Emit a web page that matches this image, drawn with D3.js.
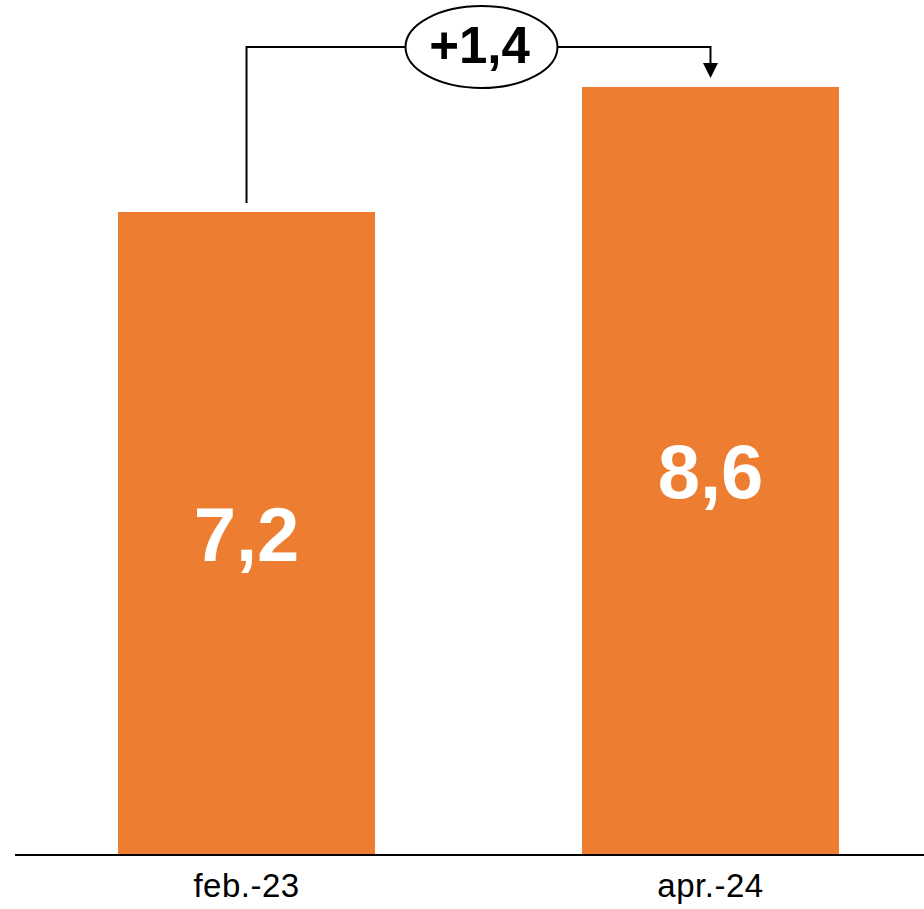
<!DOCTYPE html>
<html>
<head lang="en">
    <meta charset="UTF-8">
    <title>Bars</title>
    <script type="text/javascript" src="https://cdn.jsdelivr.net/npm/d3@7"></script>
    <style>
        body { margin: 0; background: #fff; }
        text { font-family: "Liberation Sans", Arial, sans-serif; }
    </style>
</head>
<body>
<svg id="mainSvg"></svg>
<script>
    var categories = ["feb.-23", "apr.-24"];
    var values = [7.2, 8.6];
    var valueLabels = ["7,2", "8,6"];
    var diffLabel = "+1,4";

    var w = 924, h = 909, base = 855;

    var svg = d3.select("#mainSvg").attr("width", w).attr("height", h);

    var x = d3.scaleBand()
            .domain(categories)
            .range([15, 942])
            .paddingInner(0.446)
            .paddingOuter(0.222);

    var y = d3.scaleLinear()
            .domain([0, 9.574])
            .range([base, 0]);

    svg.selectAll("rect.bar")
            .data(values)
            .enter()
            .append("rect")
            .attr("class", "bar")
            .attr("x", function (d, i) { return x(categories[i]); })
            .attr("y", function (d) { return y(d); })
            .attr("width", x.bandwidth())
            .attr("height", function (d) { return base - y(d); })
            .attr("fill", "#ED7D31");

    svg.selectAll("text.val")
            .data(values)
            .enter()
            .append("text")
            .attr("class", "val")
            .attr("x", function (d, i) { return x(categories[i]) + x.bandwidth() / 2; })
            .attr("y", function (d) { return (y(d) + base) / 2 + 27; })
            .attr("text-anchor", "middle")
            .attr("font-size", 76)
            .attr("font-weight", "bold")
            .attr("fill", "white")
            .text(function (d, i) { return valueLabels[i]; });

    // axis line + labels
    svg.append("line")
            .attr("x1", 15).attr("x2", w)
            .attr("y1", base).attr("y2", base)
            .attr("stroke", "black").attr("stroke-width", 2);

    svg.selectAll("text.cat")
            .data(categories)
            .enter()
            .append("text")
            .attr("class", "cat")
            .attr("x", function (d) { return x(d) + x.bandwidth() / 2; })
            .attr("y", 897)
            .attr("text-anchor", "middle")
            .attr("font-size", 33)
            .attr("letter-spacing", 0.5)
            .attr("fill", "black")
            .text(function (d) { return d; });

    // difference annotation
    var x1 = x(categories[0]) + x.bandwidth() / 2,
        x2 = x(categories[1]) + x.bandwidth() / 2,
        topY = 47,
        y1 = y(values[0]) - 9,
        y2 = y(values[1]) - 9;

    svg.append("path")
            .attr("d", "M" + x1 + "," + y1 + "V" + topY + "H" + x2 + "V" + (y2 - 14))
            .attr("fill", "none")
            .attr("stroke", "black")
            .attr("stroke-width", 2);

    svg.append("path")
            .attr("d", "M" + (x2 - 7.5) + "," + (y2 - 15) + "L" + (x2 + 7.5) + "," + (y2 - 15) + "L" + x2 + "," + y2 + "Z")
            .attr("fill", "black");

    var cx = (x1 + x2) / 2 + 3;
    svg.append("ellipse")
            .attr("cx", cx).attr("cy", topY)
            .attr("rx", 76).attr("ry", 41)
            .attr("fill", "white")
            .attr("stroke", "black")
            .attr("stroke-width", 2);

    svg.append("text")
            .attr("x", cx - 2)
            .attr("y", 63)
            .attr("text-anchor", "middle")
            .attr("font-size", 51)
            .attr("font-weight", "bold")
            .attr("fill", "black")
            .text(diffLabel);
</script>
</body>
</html>
